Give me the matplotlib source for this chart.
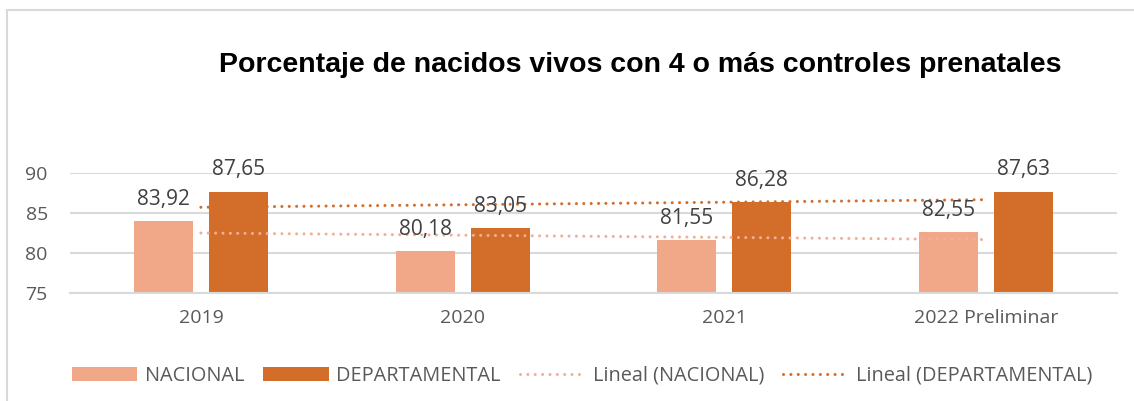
import numpy as np
import matplotlib
matplotlib.use("Agg")
import matplotlib.pyplot as plt
from matplotlib.patches import Patch, Rectangle
from matplotlib.lines import Line2D

categories = ["2019", "2020", "2021", "2022 Preliminar"]
nacional = [83.92, 80.18, 81.55, 82.55]
departamental = [87.65, 83.05, 86.28, 87.63]
yticks = [75, 80, 85, 90]
title = "Porcentaje de nacidos vivos con 4 o más controles prenatales"

c_nac = "#F0A889"
c_dep = "#D36D2A"
c_nac_tr = "#F2AE96"
c_dep_tr = "#D36D2A"
grid_c = "#D9D9D9"
txt_c = "#595959"

font = ["Open Sans", "DejaVu Sans"]

fig = plt.figure(figsize=(11.34, 4.01), dpi=100)
fig.patch.set_facecolor("white")
fig.patches.append(Rectangle((7/1134, -0.1), 1.2, (401-10)/401 + 0.1,
                             transform=fig.transFigure, fill=False,
                             edgecolor=grid_c, linewidth=1.5, zorder=0))

ax = fig.add_axes([70/1134, (401-292.7)/401, 1047/1134, 120/401])
x = np.arange(len(categories))
w = 0.225
off = 0.143
ax.bar(x - off, nacional, w, color=c_nac, zorder=2)
ax.bar(x + off, departamental, w, color=c_dep, zorder=2)

# linear trendlines (Excel "Lineal")
for vals, col in [(nacional, c_nac_tr), (departamental, c_dep_tr)]:
    p = np.polyfit(x, vals, 1)
    xs = np.array([x[0], x[-1]], dtype=float)
    ax.plot(xs, np.polyval(p, xs), color=col, linewidth=2.2,
            linestyle=(0, (0.01, 2.4)), dash_capstyle="round",
            zorder=3, clip_on=False)

for xs_, vals in [(x - off, nacional), (x + off, departamental)]:
    for xi, v in zip(xs_, vals):
        ax.annotate(f"{v:.2f}".replace(".", ","), (xi, v), xytext=(0, 12),
                    textcoords="offset points", ha="center", va="baseline",
                    fontsize=15, color="#404040", family=font, zorder=4)

ax.set_xlim(-0.5, 3.5)
ax.set_ylim(75, 90)
ax.set_yticks(yticks)
ax.set_xticks(x)
ax.set_xticklabels(categories)
for lab in ax.get_yticklabels() + ax.get_xticklabels():
    lab.set_family(font)
    lab.set_fontsize(14)
    lab.set_color(txt_c)
ax.tick_params(axis="both", length=0)
ax.tick_params(axis="y", pad=16)
ax.tick_params(axis="x", pad=12)
ax.grid(axis="y", color=grid_c, linewidth=1.5, zorder=0)
ax.set_axisbelow(True)
for s in ["top", "right", "left"]:
    ax.spines[s].set_visible(False)
ax.spines["bottom"].set_color(grid_c)
ax.spines["bottom"].set_linewidth(1.5)

fig.text(640/1134, 1 - 65/401, title, ha="center", va="center",
         fontsize=20.5, fontweight="bold", family="Liberation Sans", color="black")

handles = [
    Patch(facecolor=c_nac, edgecolor="none"),
    Patch(facecolor=c_dep, edgecolor="none"),
    Line2D([], [], color=c_nac_tr, linewidth=2.2, linestyle=(0, (0.01, 2.4)),
           dash_capstyle="round"),
    Line2D([], [], color=c_dep_tr, linewidth=2.2, linestyle=(0, (0.01, 2.4)),
           dash_capstyle="round"),
]
labels = ["NACIONAL", "DEPARTAMENTAL", "Lineal (NACIONAL)", "Lineal (DEPARTAMENTAL)"]
leg = fig.legend(handles, labels, loc="center", bbox_to_anchor=(582/1134, 1 - 376/401),
                 ncol=4, frameon=False, handlelength=3.3, handleheight=0.67,
                 handletextpad=0.38, columnspacing=0.95,
                 prop={"family": font, "size": 14.3})
for t in leg.get_texts():
    t.set_color(txt_c)

fig.savefig("out.png", dpi=100)
